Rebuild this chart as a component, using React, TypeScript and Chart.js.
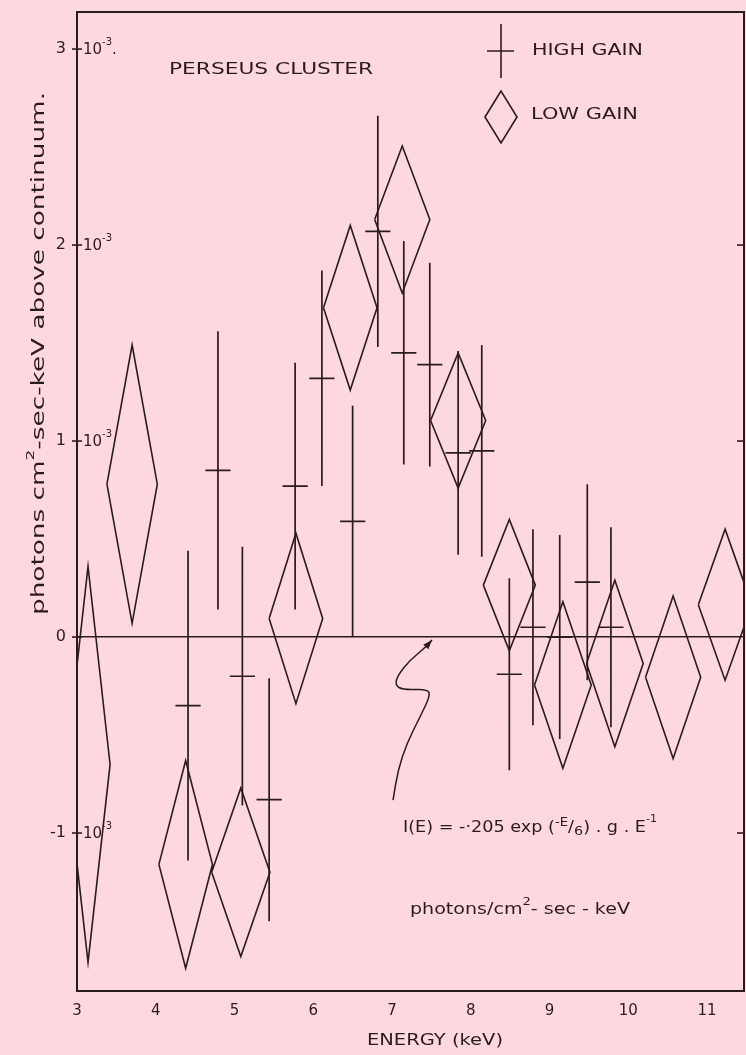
import React, { useEffect, useRef } from "react";
import { Chart, registerables } from "chart.js";

Chart.register(...registerables);

const FONT = '"DejaVu Sans", sans-serif';
const INK = "#2a1c1e";
const BG = "#fdd8df";

// ---- axes ----
const xTicks = [3, 4, 5, 6, 7, 8, 9, 10, 11];
const xMin = 3;
const xMax = 11.47;
// values in units of 10^-3 photons cm^-2 s^-1 keV^-1
const yTicks = [-1, 0, 1, 2, 3];
const yMin = -1.806;
const yMax = 3.189;
const yTickExponent = "-3";
const yRightTicks = [-1, 1, 2];

// ---- HIGH GAIN (crosses) ----
const highGainEnergy = [4.41, 4.79, 5.1, 5.44, 5.77, 6.11, 6.5, 6.82, 7.15, 7.48, 7.84, 8.14, 8.49, 8.79, 9.13, 9.48, 9.78];
const highGainValue = [-0.35, 0.85, -0.2, -0.83, 0.77, 1.32, 0.59, 2.07, 1.45, 1.39, 0.94, 0.95, -0.19, 0.05, 0.0, 0.28, 0.05];
const highGainError = [0.79, 0.71, 0.66, 0.62, 0.63, 0.55, 0.59, 0.59, 0.57, 0.52, 0.52, 0.54, 0.49, 0.5, 0.52, 0.5, 0.51];
const highGainBinHalf = [0.16, 0.16, 0.16, 0.16, 0.16, 0.16, 0.16, 0.16, 0.16, 0.16, 0.16, 0.16, 0.16, 0.16, 0.16, 0.16, 0.16];

// ---- LOW GAIN (diamonds) ----
const lowGainEnergy = [3.14, 3.7, 4.38, 5.08, 5.78, 6.47, 7.13, 7.84, 8.49, 9.17, 9.83, 10.57, 11.23];
const lowGainValue = [-0.65, 0.78, -1.16, -1.2, 0.095, 1.68, 2.13, 1.105, 0.265, -0.245, -0.135, -0.205, 0.165];
const lowGainError = [1.01, 0.71, 0.53, 0.43, 0.435, 0.42, 0.375, 0.345, 0.335, 0.425, 0.425, 0.415, 0.385];
const lowGainHalfWidth = [0.28, 0.32, 0.34, 0.37, 0.34, 0.34, 0.35, 0.35, 0.33, 0.36, 0.36, 0.35, 0.34];

// ---- annotation arrow (energy, value) ----
const arrowEnergy = [7.508, 7.419, 7.229, 7.076, 7.038, 7.14, 7.457, 7.483, 7.356, 7.19, 7.076, 7.013];
const arrowValue = [-0.015, -0.056, -0.117, -0.194, -0.245, -0.27, -0.265, -0.301, -0.408, -0.541, -0.679, -0.832];

type Pt = { x: number; y: number | null };

const highGainData: Pt[] = [];
highGainEnergy.forEach((e, i) => {
  const v = highGainValue[i];
  const err = highGainError[i];
  const h = highGainBinHalf[i];
  highGainData.push({ x: e, y: v - err }, { x: e, y: v + err }, { x: e, y: null });
  highGainData.push({ x: e - h, y: v }, { x: e + h, y: v }, { x: e + h, y: null });
});

const lowGainData: Pt[] = [];
lowGainEnergy.forEach((e, i) => {
  const v = lowGainValue[i];
  const dv = lowGainError[i];
  const de = lowGainHalfWidth[i];
  lowGainData.push(
    { x: e - de, y: v },
    { x: e, y: v + dv },
    { x: e + de, y: v },
    { x: e, y: v - dv },
    { x: e - de, y: v },
    { x: e, y: null }
  );
});

type Span = { t: string; size: number; dy?: number };

function drawSpans(ctx: CanvasRenderingContext2D, spans: Span[], x: number, y: number, targetW?: number) {
  let total = 0;
  const ws = spans.map((s) => {
    ctx.font = `${s.size}px ${FONT}`;
    const w = ctx.measureText(s.t).width;
    total += w;
    return w;
  });
  const sx = targetW ? targetW / total : 1;
  ctx.save();
  ctx.translate(x, y);
  ctx.scale(sx, 1);
  ctx.textAlign = "left";
  ctx.textBaseline = "middle";
  ctx.fillStyle = INK;
  let cx = 0;
  spans.forEach((s, i) => {
    ctx.font = `${s.size}px ${FONT}`;
    ctx.fillText(s.t, cx, s.dy || 0);
    cx += ws[i];
  });
  ctx.restore();
}

const decorPlugin = {
  id: "decor",
  beforeDraw(chart: any) {
    const ctx = chart.ctx as CanvasRenderingContext2D;
    ctx.save();
    ctx.fillStyle = BG;
    ctx.fillRect(0, 0, chart.width, chart.height);
    ctx.restore();
  },
  afterDraw(chart: any) {
    const ctx = chart.ctx as CanvasRenderingContext2D;
    const ca = chart.chartArea;
    const xs = chart.scales.x;
    const ys = chart.scales.y;
    const L = ca.left;
    const T = ca.top;
    ctx.save();
    ctx.strokeStyle = INK;
    ctx.fillStyle = INK;

    // frame
    ctx.lineWidth = 2;
    ctx.strokeRect(ca.left, ca.top, ca.right - ca.left, ca.bottom - ca.top);

    // left ticks crossing the axis, with exponent labels
    ctx.lineWidth = 1.6;
    yTicks.forEach((v) => {
      const py = ys.getPixelForValue(v);
      ctx.beginPath();
      ctx.moveTo(L - 5, py);
      ctx.lineTo(L + 5, py);
      ctx.stroke();
      if (v !== 0) {
        const spans: Span[] = [
          { t: "10", size: 15 },
          { t: yTickExponent, size: 10, dy: -8 },
        ];
        if (v === 3) spans.push({ t: ".", size: 15 });
        drawSpans(ctx, spans, L + 6, py + 1);
      }
    });
    // right inward ticks
    yRightTicks.forEach((v) => {
      const py = ys.getPixelForValue(v);
      ctx.beginPath();
      ctx.moveTo(ca.right - 7, py);
      ctx.lineTo(ca.right, py);
      ctx.stroke();
    });

    // y-axis title (rotated)
    ctx.save();
    ctx.translate(L - 37, T + 603);
    ctx.rotate(-Math.PI / 2);
    drawSpans(
      ctx,
      [
        { t: "photons cm", size: 17 },
        { t: "2", size: 11, dy: -9 },
        { t: "-sec-keV above continuum.", size: 17 },
      ],
      0,
      0,
      523
    );
    ctx.restore();

    // x-axis title
    drawSpans(ctx, [{ t: "ENERGY (keV)", size: 16 }], L + 290, T + 1029, 136);

    // title inside plot
    drawSpans(ctx, [{ t: "PERSEUS CLUSTER", size: 16 }], L + 92, T + 58, 204);

    // legend
    const lx = L + 424;
    const ly1 = T + 39;
    const ly2 = T + 105;
    ctx.lineWidth = 1.6;
    ctx.beginPath();
    ctx.moveTo(lx, ly1 - 27);
    ctx.lineTo(lx, ly1 + 27);
    ctx.moveTo(lx - 14, ly1);
    ctx.lineTo(lx + 13, ly1);
    ctx.stroke();
    drawSpans(ctx, [{ t: "HIGH GAIN", size: 16 }], L + 455, ly1, 111);
    ctx.beginPath();
    ctx.moveTo(lx - 16, ly2);
    ctx.lineTo(lx, ly2 - 26);
    ctx.lineTo(lx + 16, ly2);
    ctx.lineTo(lx, ly2 + 26);
    ctx.closePath();
    ctx.stroke();
    drawSpans(ctx, [{ t: "LOW GAIN", size: 16 }], L + 454, ly2 - 2, 107);

    // formula annotation
    drawSpans(
      ctx,
      [
        { t: "I(E) = -·205 exp (", size: 16 },
        { t: "-E", size: 12, dy: -5 },
        { t: "/", size: 16 },
        { t: "6", size: 13, dy: 4 },
        { t: ") . g . E", size: 16 },
        { t: "-1", size: 10, dy: -9 },
      ],
      L + 326,
      T + 816,
      254
    );
    drawSpans(
      ctx,
      [
        { t: "photons/cm", size: 16 },
        { t: "2", size: 11, dy: -8 },
        { t: "- sec - keV", size: 16 },
      ],
      L + 333,
      T + 898,
      220
    );

    // curved arrow
    const pts = arrowEnergy.map((e, i) => ({ x: xs.getPixelForValue(e), y: ys.getPixelForValue(arrowValue[i]) }));
    ctx.lineWidth = 1.5;
    ctx.beginPath();
    ctx.moveTo(pts[0].x, pts[0].y);
    for (let i = 1; i < pts.length - 1; i++) {
      const mx = (pts[i].x + pts[i + 1].x) / 2;
      const my = (pts[i].y + pts[i + 1].y) / 2;
      ctx.quadraticCurveTo(pts[i].x, pts[i].y, mx, my);
    }
    ctx.lineTo(pts[pts.length - 1].x, pts[pts.length - 1].y);
    ctx.stroke();
    // arrowhead
    const a = Math.atan2(pts[0].y - pts[1].y, pts[0].x - pts[1].x);
    const hl = 10;
    ctx.beginPath();
    ctx.moveTo(pts[0].x, pts[0].y);
    ctx.lineTo(pts[0].x - hl * Math.cos(a - 0.35), pts[0].y - hl * Math.sin(a - 0.35));
    ctx.lineTo(pts[0].x - hl * Math.cos(a + 0.35), pts[0].y - hl * Math.sin(a + 0.35));
    ctx.closePath();
    ctx.fill();

    ctx.restore();
  },
};

export default function App() {
  const ref = useRef<HTMLCanvasElement>(null);
  useEffect(() => {
    const chart = new Chart(ref.current as HTMLCanvasElement, {
      type: "line",
      data: {
        datasets: [
          {
            label: "LOW GAIN",
            data: lowGainData as any,
            borderColor: INK,
            borderWidth: 1.6,
            pointRadius: 0,
            fill: false,
            tension: 0,
            spanGaps: false,
          },
          {
            label: "HIGH GAIN",
            data: highGainData as any,
            borderColor: INK,
            borderWidth: 1.7,
            pointRadius: 0,
            fill: false,
            tension: 0,
            spanGaps: false,
          },
        ],
      },
      options: {
        responsive: false,
        maintainAspectRatio: false,
        animation: false,
        devicePixelRatio: 1,
        layout: { padding: { top: 12, right: 2, left: 0, bottom: 0 } },
        plugins: {
          legend: { display: false },
          tooltip: { enabled: false },
          title: { display: false },
        },
        scales: {
          x: {
            type: "linear",
            min: xMin,
            max: xMax,
            afterBuildTicks: (scale: any) => {
              scale.ticks = xTicks.map((v) => ({ value: v }));
            },
            afterFit: (scale: any) => {
              scale.height = 64;
              scale.paddingLeft = 0;
              scale.paddingRight = 0;
            },
            ticks: {
              color: INK,
              font: { family: FONT, size: 15 },
              padding: 11,
              maxRotation: 0,
              autoSkip: false,
              callback: (v: any) => String(v),
            },
            grid: { display: false, drawTicks: false },
            border: { display: false },
          },
          y: {
            type: "linear",
            min: yMin,
            max: yMax,
            afterBuildTicks: (scale: any) => {
              scale.ticks = yTicks.map((v) => ({ value: v }));
            },
            afterFit: (scale: any) => {
              scale.width = 77;
              scale.paddingTop = 0;
              scale.paddingBottom = 0;
            },
            ticks: {
              color: INK,
              font: { family: FONT, size: 16 },
              padding: 11,
              autoSkip: false,
              callback: (v: any) => String(v),
            },
            grid: {
              drawTicks: false,
              color: (c: any) => (c.tick && c.tick.value === 0 ? INK : "rgba(0,0,0,0)"),
              lineWidth: 1.6,
            },
            border: { display: false },
          },
        },
      },
      plugins: [decorPlugin],
    } as any);
    return () => chart.destroy();
  }, []);
  return (
    <div style={{ position: "absolute", left: 0, top: 0, width: 746, height: 1055, background: BG }}>
      <canvas ref={ref} width={746} height={1055} style={{ display: "block" }} />
    </div>
  );
}
